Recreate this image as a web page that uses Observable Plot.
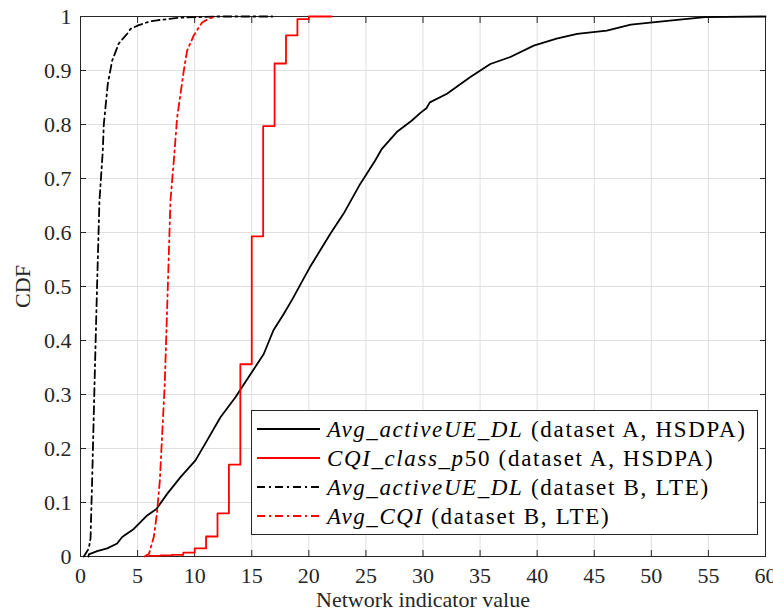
<!DOCTYPE html>
<html>
<head>
<meta charset="utf-8">
<script src="https://cdn.jsdelivr.net/npm/d3@7"></script>
<script src="https://cdn.jsdelivr.net/npm/@observablehq/plot@0.6"></script>
<style>
  html, body { margin: 0; padding: 0; background: #fff; }
</style>
</head>
<body>
<div id="chart"></div>
<script>
// ---- tick values / labels ----
const xTicks = [0, 5, 10, 15, 20, 25, 30, 35, 40, 45, 50, 55, 60];
const yTicks = [0, 0.1, 0.2, 0.3, 0.4, 0.5, 0.6, 0.7, 0.8, 0.9, 1];
const yTickLabels = ["0", "0.1", "0.2", "0.3", "0.4", "0.5", "0.6", "0.7", "0.8", "0.9", "1"];
const xAxisLabel = "Network indicator value";
const yAxisLabel = "CDF";

// ---- legend labels (italic math part, roman rest) ----
const legendMath = ["Avg_activeUE_DL", "CQI_class_p", "Avg_activeUE_DL", "Avg_CQI"];
const legendRest = [" (dataset A, HSDPA)", "50 (dataset A, HSDPA)", " (dataset B, LTE)", " (dataset B, LTE)"];

// ---- series 1: Avg_activeUE_DL (dataset A, HSDPA) ----
const ueA_x = [0.7, 0.73, 1.46, 2.34, 3.21, 3.65, 4.67, 5.84, 6.65, 7.59, 8.76, 10.07, 11.09, 12.26, 13.57, 14.9, 16.05, 16.9, 17.8, 18.6, 19.4, 20.1, 21.0, 21.9, 23.05, 24.5, 25.8, 26.4, 27.7, 29.0, 29.8, 30.3, 30.6, 32.1, 34.15, 35.9, 37.65, 39.7, 41.7, 43.5, 46.1, 48.2, 51.4, 54.7, 60];
const ueA_y = [0.0, 0.004, 0.01, 0.015, 0.024, 0.036, 0.051, 0.076, 0.088, 0.116, 0.147, 0.178, 0.215, 0.258, 0.295, 0.338, 0.375, 0.419, 0.449, 0.478, 0.509, 0.536, 0.567, 0.598, 0.635, 0.69, 0.733, 0.755, 0.786, 0.807, 0.822, 0.83, 0.841, 0.857, 0.888, 0.912, 0.925, 0.946, 0.959, 0.968, 0.974, 0.985, 0.992, 0.999, 1.0];

// ---- series 2: CQI_class_p50 (dataset A, HSDPA), integer-valued steps ----
const cqiA_x = [6, 7, 8, 9, 10, 11, 12, 13, 14, 15, 16, 17, 18, 19, 20, 22];
const cqiA_y = [0.001, 0.002, 0.003, 0.007, 0.015, 0.037, 0.08, 0.17, 0.356, 0.593, 0.797, 0.913, 0.965, 0.995, 1.0, 1.0];

// ---- series 3: Avg_activeUE_DL (dataset B, LTE) ----
const ueB_x = [0.29, 0.73, 0.88, 1.02, 1.23, 1.45, 1.66, 1.95, 2.04, 2.39, 2.77, 3.35, 4.09, 4.38, 5.1, 6.1, 6.7, 8.76, 12, 16.8];
const ueB_y = [0.0, 0.015, 0.034, 0.141, 0.32, 0.5, 0.659, 0.75, 0.8, 0.875, 0.918, 0.95, 0.968, 0.977, 0.984, 0.991, 0.993, 0.998, 1.0, 1.0];

// ---- series 4: Avg_CQI (dataset B, LTE) ----
const cqiB_x = [5.6, 6.0, 6.42, 6.7, 6.95, 7.38, 7.65, 7.88, 8.2, 8.46, 9.05, 9.34, 9.92, 10.65, 11.24, 11.8];
const cqiB_y = [0.0, 0.005, 0.036, 0.081, 0.141, 0.32, 0.5, 0.659, 0.74, 0.812, 0.9, 0.937, 0.965, 0.989, 0.996, 1.0];

const zip = (xs, ys) => xs.map((x, i) => ({x, y: ys[i]}));
const FONT = "'Liberation Serif', 'Times New Roman', serif";
const AX = "#262626";
const DASHDOT = "8,4,2,4";

const plot = Plot.plot({
  width: 773,
  height: 612,
  marginLeft: 80,
  marginRight: 8,
  marginTop: 16,
  marginBottom: 56,
  style: {fontFamily: FONT, fontSize: "22px", background: "#fff", color: AX},
  x: {domain: [0, 60]},
  y: {domain: [0, 1]},
  marks: [
    Plot.gridX(xTicks, {stroke: "#dfdfdf", strokeOpacity: 1, strokeWidth: 1}),
    Plot.gridY(yTicks, {stroke: "#dfdfdf", strokeOpacity: 1, strokeWidth: 1}),
    Plot.frame({stroke: AX, strokeWidth: 1}),
    Plot.axisX(xTicks, {anchor: "bottom", tickSize: -6, tickPadding: 17, stroke: AX,
      label: xAxisLabel, labelAnchor: "center", labelArrow: "none", labelOffset: 50}),
    Plot.axisX(xTicks, {anchor: "top", tickSize: -6, stroke: AX, tickFormat: () => "", label: null}),
    Plot.axisY(yTicks, {anchor: "left", tickSize: -6, tickPadding: 15, stroke: AX,
      tickFormat: d => yTickLabels[yTicks.indexOf(d)],
      label: yAxisLabel, labelAnchor: "center", labelArrow: "none", labelOffset: 66}),
    Plot.axisY(yTicks, {anchor: "right", tickSize: -6, stroke: AX, tickFormat: () => "", label: null}),
    Plot.line(zip(ueA_x, ueA_y), {x: "x", y: "y", stroke: "#000", strokeWidth: 1.8}),
    Plot.line(zip(cqiA_x, cqiA_y), {x: "x", y: "y", curve: "step-after", stroke: "#ff0000", strokeWidth: 1.8}),
    Plot.line(zip(ueB_x, ueB_y), {x: "x", y: "y", stroke: "#000", strokeWidth: 1.8, strokeDasharray: DASHDOT}),
    Plot.line(zip(cqiB_x, cqiB_y), {x: "x", y: "y", stroke: "#ff0000", strokeWidth: 1.8, strokeDasharray: DASHDOT})
  ]
});

document.getElementById("chart").appendChild(plot);

// ---- legend box inside the axes (lower right) ----
const legendColors = ["#000", "#ff0000", "#000", "#ff0000"];
const legendDash = [null, null, DASHDOT, DASHDOT];
const svg = d3.select(plot);
const lg = svg.append("g")
  .attr("font-family", FONT).attr("font-size", 23).attr("fill", "#000")
  .attr("text-anchor", "start");
lg.append("rect")
  .attr("x", 251.5).attr("y", 410.5).attr("width", 506).attr("height", 124)
  .attr("fill", "#fff").attr("stroke", AX).attr("stroke-width", 1);
legendMath.forEach((m, i) => {
  const y = 429 + i * 29;
  lg.append("line")
    .attr("x1", 257).attr("x2", 320).attr("y1", y).attr("y2", y)
    .attr("stroke", legendColors[i]).attr("stroke-width", 1.8)
    .attr("stroke-dasharray", legendDash[i]);
  const t = lg.append("text").attr("x", 327).attr("y", y).attr("dy", "0.33em").attr("text-anchor", "start");
  t.append("tspan").attr("font-style", "italic").attr("letter-spacing", "1.6px").text(m);
  t.append("tspan").attr("letter-spacing", "1.7px").text(legendRest[i]);
});
</script>
</body>
</html>
